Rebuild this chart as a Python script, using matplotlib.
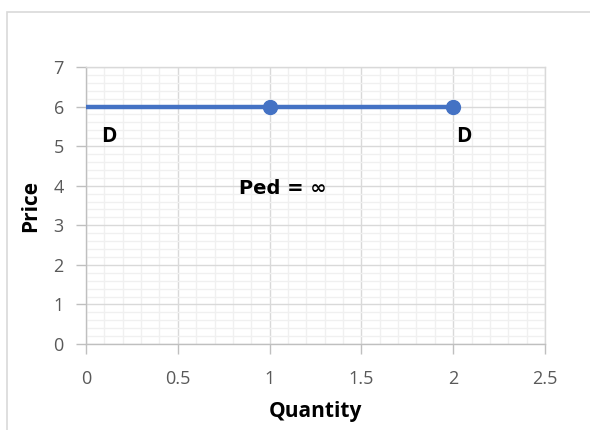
import numpy as np
import matplotlib.pyplot as plt
from matplotlib.patches import Rectangle
from matplotlib.ticker import MultipleLocator

# demand curve (perfectly elastic)
quantity = [0, 1, 2]
price = [6, 6, 6]
marker_idx = [1, 2]

x_ticks = [0, 0.5, 1, 1.5, 2, 2.5]
y_ticks = [0, 1, 2, 3, 4, 5, 6, 7]

plt.rcParams['font.family'] = ['Open Sans', 'DejaVu Sans']

fig = plt.figure(figsize=(5.9, 4.3), dpi=100)
W, H = 590, 430
ax = fig.add_axes([86 / W, 1 - 344 / H, (545 - 86) / W, (344 - 67) / H])

# outer chart border
fig.patches.append(Rectangle((7 / W, -0.01), 1.0, 1 - 12 / H + 0.01, transform=fig.transFigure,
                             fill=False, edgecolor='#d9d9d9', linewidth=1.2))

blue = '#4472C4'
ax.plot(quantity, price, color=blue, linewidth=3.2, marker='o', markersize=10,
        markevery=marker_idx, solid_capstyle='butt', zorder=5, clip_on=False)

ax.set_xlim(0, 2.5)
ax.set_ylim(0, 7)
ax.set_xticks(x_ticks)
ax.set_xticklabels(['0', '0.5', '1', '1.5', '2', '2.5'])
ax.set_yticks(y_ticks)
ax.xaxis.set_minor_locator(MultipleLocator(0.1))
ax.yaxis.set_minor_locator(MultipleLocator(0.2))

ax.grid(which='minor', color='#f0f0f0', linewidth=1.0)
ax.grid(which='major', color='#d9d9d9', linewidth=1.0)
ax.set_axisbelow(True)

for s in ax.spines.values():
    s.set_color('#d9d9d9')
    s.set_linewidth(1.0)
ax.spines['left'].set_color('#bfbfbf')
ax.spines['bottom'].set_color('#bfbfbf')

ax.tick_params(which='major', length=7, width=1, color='#bfbfbf', labelsize=13,
               labelcolor='#595959')
ax.tick_params(which='minor', length=0)
ax.tick_params(axis='x', pad=12)
ax.tick_params(axis='y', pad=9)

ax.set_xlabel('Quantity', fontsize=15, fontweight='bold', labelpad=9)
ax.set_ylabel('Price', fontsize=15, fontweight='bold', labelpad=9)

ax.text(0.125, 5.25, 'D', fontsize=15, fontweight='bold', ha='center', va='center')
ax.text(2.06, 5.25, 'D', fontsize=15, fontweight='bold', ha='center', va='center')
ax.text(1.07, 3.92, 'Ped = ∞', fontsize=14, fontweight='bold', ha='center', va='center',
        family=['DejaVu Sans'])

fig.savefig('out.png', dpi=100)
